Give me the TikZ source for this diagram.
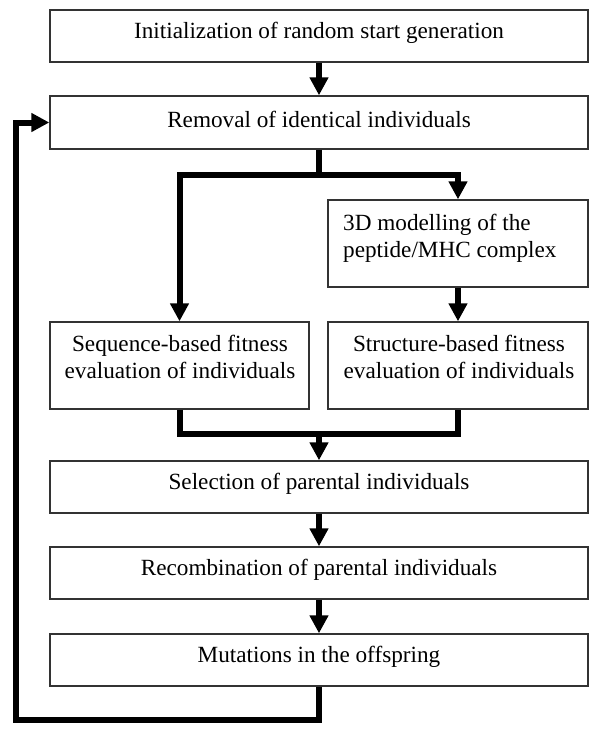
\documentclass[tikz,border=0pt]{standalone}
\usepackage{fontspec}
\setmainfont{Liberation Serif}
\usetikzlibrary{arrows.meta}
\begin{document}
\begin{tikzpicture}[x=1pt,y=-1pt,
  box/.style={draw=black!80,line width=1.4pt,fill=white,inner sep=0pt,
    minimum width=#1,minimum height=52pt},
  box/.default=538pt,
  tbox/.style={draw=black!80,line width=1.4pt,fill=white,inner sep=0pt,
    minimum width=259pt,minimum height=87pt},
  txt/.style={font=\fontsize{23.2}{27}\selectfont,inner sep=0pt,align=center},
  conn/.style={line width=6pt,line join=miter},
  arr/.style={conn,-{Triangle[length=18pt,width=18pt]}}]
\useasboundingbox (0,0) rectangle (600,734);
\node[box] (b1) at (319,36) {};
\node[box,minimum height=53pt] (b2) at (319,122.5) {};
\node[tbox,minimum width=260pt] (b3) at (458,243.5) {};
\node[tbox] (b4) at (179.5,365.5) {};
\node[tbox,minimum width=260pt] (b5) at (458,365.5) {};
\node[box] (b6) at (319,487) {};
\node[box] (b7) at (319,573) {};
\node[box] (b8) at (319,660) {};
\node[txt] (t1) at ([yshift=3pt]b1.center) {Initialization of random start generation};
\node[txt] (t2) at ([yshift=3pt]b2.center) {Removal of identical individuals};
\node[txt,align=left,anchor=west] (t3) at (343,238) {3D modelling of the\\peptide/MHC complex};
\node[txt] (t4) at (180,357) {Sequence-based fitness\\evaluation of individuals};
\node[txt] (t5) at (459,357) {Structure-based fitness\\evaluation of individuals};
\node[txt] (t6) at ([yshift=3pt]b6.center) {Selection of parental individuals};
\node[txt] (t7) at ([yshift=3pt]b7.center) {Recombination of parental individuals};
\node[txt] (t8) at ([yshift=3pt]b8.center) {Mutations in the offspring};
\coordinate (split) at (319,175);
\coordinate (merge) at (319,434);
\coordinate (low) at (319,720);
\draw[arr] (b1.south) -- (b2.north);
\draw[conn] (b2.south) -- (split);
\draw[arr] (split) -| (b4.north);
\draw[arr] (split) -| (b3.north);
\draw[arr] (b3.south) -- (b5.north);
\draw[conn] (b4.south) |- (merge) -| (b5.south);
\draw[arr] (merge) -- (b6.north);
\draw[arr] (b6.south) -- (b7.north);
\draw[arr] (b7.south) -- (b8.north);
\draw[arr] (b8.south) -- (low) -| (16,122.5) -- (b2.west);
\end{tikzpicture}
\end{document}
